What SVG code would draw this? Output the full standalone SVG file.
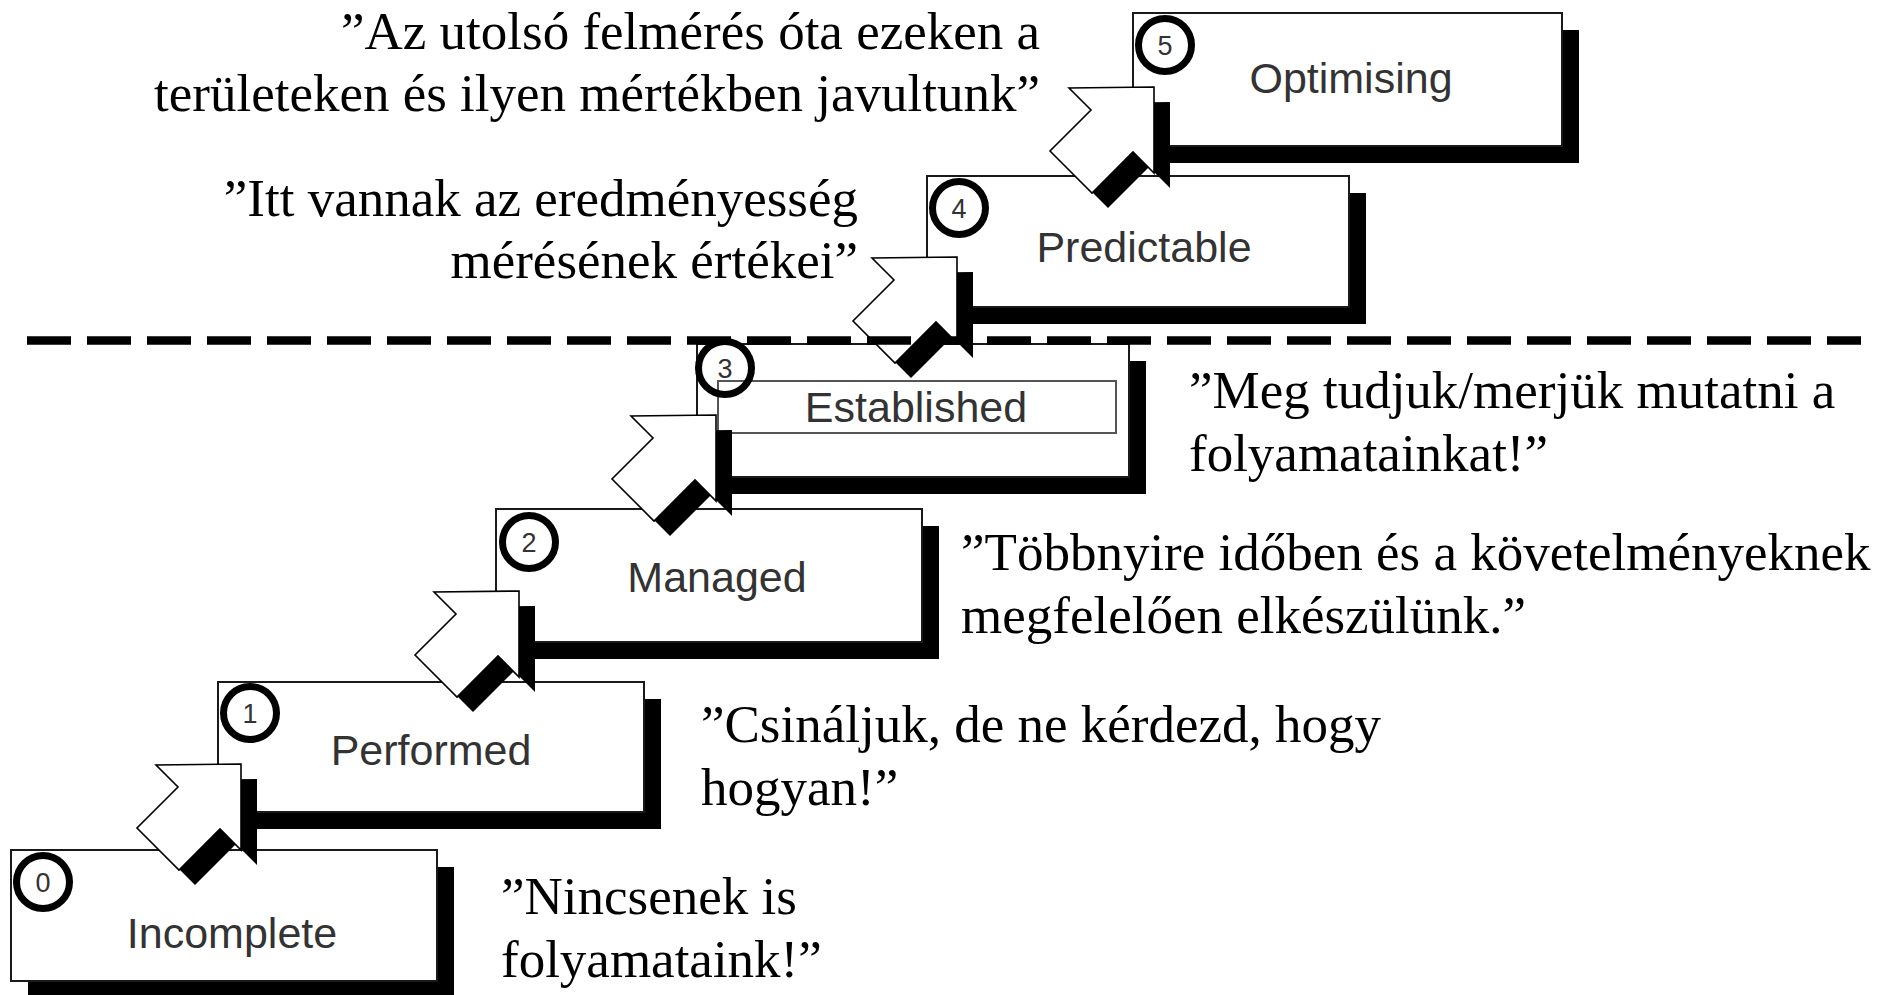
<svg xmlns="http://www.w3.org/2000/svg" xmlns:xlink="http://www.w3.org/1999/xlink" width="1893" height="995" viewBox="0 0 1893 995">
<style>
.sh{fill:#000}
.bx{fill:#fff;stroke:#1a1a1a;stroke-width:2}
.in{fill:#fff;stroke:#555;stroke-width:2}
.cr{fill:#fff;stroke:#000;stroke-width:7}
.lb{font-family:"Liberation Sans",Arial,sans-serif;font-size:43px;fill:#333;text-anchor:middle}
.dg{font-family:"Liberation Sans",Arial,sans-serif;font-size:27px;fill:#333;text-anchor:middle}
.q{font-family:"Liberation Serif","Times New Roman",serif;font-size:53px;fill:#000}
.aw{fill:#fff;stroke:#000;stroke-width:1.6;stroke-linejoin:miter}
</style>
<defs>
<g id="arr">
<polygon class="sh" transform="translate(16,15)" points="0,0 -85,1 -63,23 -104,64 -62,106 -21,65 0,86"/>
<polygon class="aw" points="0,0 -85,1 -63,23 -104,64 -62,106 -21,65 0,86"/>
</g>
</defs>
<rect width="1893" height="995" fill="#fff"/>

<g id="node-incomplete">
<rect class="sh" x="28" y="867" width="426" height="131"/>
<rect class="bx" x="11" y="850" width="426" height="131"/>
<circle class="cr" cx="43" cy="882" r="26.5"/>
<text class="dg" x="43" y="892">0</text>
<text class="lb" x="232" y="948">Incomplete</text>
</g>

<g id="node-performed">
<rect class="sh" x="235" y="699" width="426" height="130"/>
<rect class="bx" x="218" y="682" width="426" height="130"/>
<circle class="cr" cx="250" cy="713" r="26.5"/>
<text class="dg" x="250" y="723">1</text>
<text class="lb" x="431" y="765">Performed</text>
</g>

<g id="node-managed">
<rect class="sh" x="513" y="526" width="426" height="133"/>
<rect class="bx" x="496" y="509" width="426" height="133"/>
<circle class="cr" cx="529" cy="542" r="26.5"/>
<text class="dg" x="529" y="552">2</text>
<text class="lb" x="717" y="592">Managed</text>
</g>

<g id="node-established">
<rect class="sh" x="714" y="361" width="432" height="133"/>
<rect class="bx" x="697" y="344" width="432" height="133"/>
<rect class="in" x="718" y="381" width="398" height="52"/>
<circle cx="725" cy="368" r="26.5" fill="none" stroke="#000" stroke-width="7"/>
<text class="dg" x="725" y="378">3</text>
<text class="lb" x="916" y="422">Established</text>
</g>

<g id="node-predictable">
<rect class="sh" x="944" y="193" width="422" height="131"/>
<rect class="bx" x="927" y="176" width="422" height="131"/>
<circle class="cr" cx="959" cy="208" r="26.5"/>
<text class="dg" x="959" y="218">4</text>
<text class="lb" x="1144" y="262">Predictable</text>
</g>

<g id="node-optimising">
<rect class="sh" x="1150" y="30" width="429" height="133"/>
<rect class="bx" x="1133" y="13" width="429" height="133"/>
<circle class="cr" cx="1165" cy="45" r="26.5"/>
<text class="dg" x="1165" y="55">5</text>
<text class="lb" x="1351" y="93">Optimising</text>
</g>

<g id="connectors">
<use xlink:href="#arr" href="#arr" x="241" y="764"/>
<use xlink:href="#arr" href="#arr" x="519" y="591"/>
<use xlink:href="#arr" href="#arr" x="716" y="415"/>
<use xlink:href="#arr" href="#arr" x="957" y="257"/>
<use xlink:href="#arr" href="#arr" x="1154" y="87"/>
</g>

<g id="divider">
<line x1="27" y1="340.5" x2="1861" y2="340.5" stroke="#000" stroke-width="8.5" stroke-dasharray="44 16"/>
</g>

<g id="quotes">
<text class="q" x="1040" y="49" text-anchor="end">”Az utolsó felmérés óta ezeken a</text>
<text class="q" x="1040" y="111" text-anchor="end">területeken és ilyen mértékben javultunk”</text>
<text class="q" x="858" y="216" text-anchor="end">”Itt vannak az eredményesség</text>
<text class="q" x="858" y="278" text-anchor="end">mérésének értékei”</text>
<text class="q" x="1189" y="408">”Meg tudjuk/merjük mutatni a</text>
<text class="q" x="1189" y="471">folyamatainkat!”</text>
<text class="q" x="961" y="570">”Többnyire időben és a követelményeknek</text>
<text class="q" x="961" y="633">megfelelően elkészülünk.”</text>
<text class="q" x="701" y="742">”Csináljuk, de ne kérdezd, hogy</text>
<text class="q" x="701" y="805">hogyan!”</text>
<text class="q" x="501" y="914">”Nincsenek is</text>
<text class="q" x="501" y="977">folyamataink!”</text>
</g>
</svg>
